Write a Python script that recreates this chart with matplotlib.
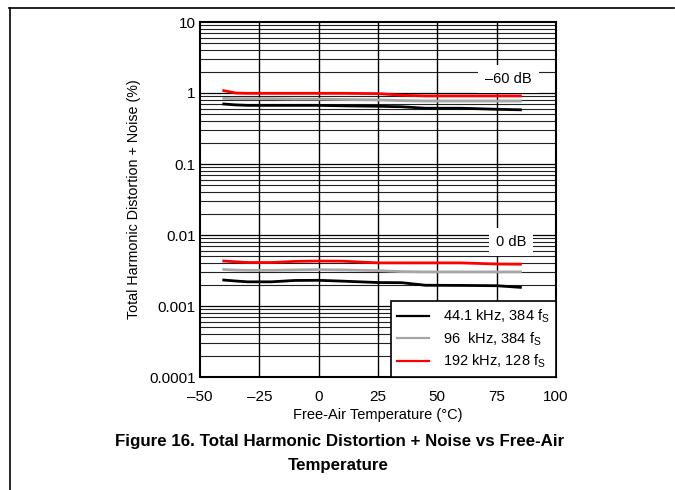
import numpy as np
import matplotlib.pyplot as plt
from matplotlib.lines import Line2D

plt.rcParams['font.family'] = ['Liberation Sans', 'DejaVu Sans']

# temperature points (°C)
temp = [-40, -35, -30, -20, -10, 0, 10, 25, 35, 45, 60, 75, 85]

# -60 dB curves (%)
thd60_441 = [0.70, 0.68, 0.67, 0.67, 0.67, 0.67, 0.66, 0.65, 0.64, 0.61, 0.61, 0.59, 0.58]
thd60_96 = [0.84, 0.83, 0.83, 0.83, 0.82, 0.82, 0.81, 0.80, 0.78, 0.77, 0.77, 0.77, 0.77]
thd60_192 = [1.08, 1.00, 0.99, 0.99, 0.99, 0.99, 0.99, 0.98, 0.93, 0.91, 0.91, 0.91, 0.91]

# 0 dB curves (%)
thd0_441 = [0.00232, 0.00225, 0.00219, 0.00219, 0.00229, 0.00230, 0.00224, 0.00214, 0.00213, 0.00196, 0.00195, 0.00193, 0.00183]
thd0_96 = [0.00327, 0.00320, 0.00318, 0.00318, 0.00322, 0.00325, 0.00322, 0.00315, 0.00305, 0.00302, 0.00302, 0.00302, 0.00302]
thd0_192 = [0.00430, 0.00420, 0.00410, 0.00410, 0.00425, 0.00430, 0.00428, 0.00405, 0.00405, 0.00405, 0.00405, 0.00390, 0.00388]

labels = ["44.1 kHz, 384 f$_\\mathregular{S}$", "96  kHz, 384 f$_\\mathregular{S}$", "192 kHz, 128 f$_\\mathregular{S}$"]
colors = ["black", "#a6a6a6", "red"]

xticks = [-50, -25, 0, 25, 50, 75, 100]
xticklabels = ["\u201350", "\u201325", "0", "25", "50", "75", "100"]
yticks = [0.0001, 0.001, 0.01, 0.1, 1, 10]
yticklabels = ["0.0001", "0.001", "0.01", "0.1", "1", "10"]

fig = plt.figure(figsize=(6.75, 4.9), dpi=100)
ax = fig.add_axes([200 / 675, 1 - 377 / 490, 356 / 675, 355 / 490])

ax.set_yscale("log")
ax.set_xlim(-50, 100)
ax.set_ylim(0.0001, 10)

# grid
for d in range(-4, 1):
    for m in range(2, 10):
        ax.axhline(m * 10.0 ** d, color="#222222", lw=0.8, zorder=1)
    ax.axhline(10.0 ** d, color="black", lw=0.9, zorder=1)
for xv in [-25, 0, 25, 50, 75]:
    ax.axvline(xv, color="black", lw=1.0, zorder=1)

series60 = [thd60_441, thd60_96, thd60_192]
series0 = [thd0_441, thd0_96, thd0_192]
for s60, s0, c, lab in zip(series60, series0, colors, labels):
    ax.plot(temp, s60, color=c, lw=2.0, zorder=3)
    ax.plot(temp, s0, color=c, lw=2.0, zorder=3, label=lab)

ax.text(80, 1.6, "\u201360 dB", fontsize=10.5, ha="center", va="center", zorder=4,
        bbox=dict(facecolor="white", edgecolor="none", pad=5))
ax.text(81, 0.0079, "0 dB", fontsize=10.5, ha="center", va="center", zorder=4,
        bbox=dict(facecolor="white", edgecolor="none", pad=5))

ax.set_xticks(xticks)
ax.set_xticklabels(xticklabels)
ax.set_yticks(yticks)
ax.set_yticklabels(yticklabels)
ax.minorticks_off()
ax.tick_params(length=0, labelsize=11)
ax.tick_params(axis="x", pad=9)
ax.tick_params(axis="y", pad=3)
for sp in ax.spines.values():
    sp.set_linewidth(1.5)
    sp.set_zorder(5)

ax.set_xlabel("Free-Air Temperature (\u00b0C)", fontsize=10.5, labelpad=3)
ax.set_ylabel("Total Harmonic Distortion + Noise (%)", fontsize=10.3, labelpad=6)

leg = ax.legend(loc="lower right", bbox_to_anchor=(1.0, 0.0), borderaxespad=0,
                fontsize=10.5, frameon=True, fancybox=False, handlelength=2.2,
                handletextpad=0.9, borderpad=0.45, labelspacing=0.33)
for h in leg.get_lines():
    h.set_linewidth(1.6)
leg.get_frame().set_edgecolor("black")
leg.get_frame().set_linewidth(1.2)
leg.get_frame().set_alpha(1)
leg.set_zorder(6)

fig.text(340 / 675, 1 - 441 / 490, "Figure 16. Total Harmonic Distortion + Noise vs Free-Air",
         fontsize=12.2, fontweight="bold", ha="center", va="center")
fig.text(338 / 675, 1 - 465 / 490, "Temperature",
         fontsize=12.2, fontweight="bold", ha="center", va="center")

# page frame
fig.add_artist(Line2D([9 / 675, 674 / 675], [1 - 8 / 490, 1 - 8 / 490], color="black", lw=1.2))
fig.add_artist(Line2D([10 / 675, 10 / 675], [0, 1 - 8 / 490], color="black", lw=1.2))

fig.savefig("out.png", dpi=100)
